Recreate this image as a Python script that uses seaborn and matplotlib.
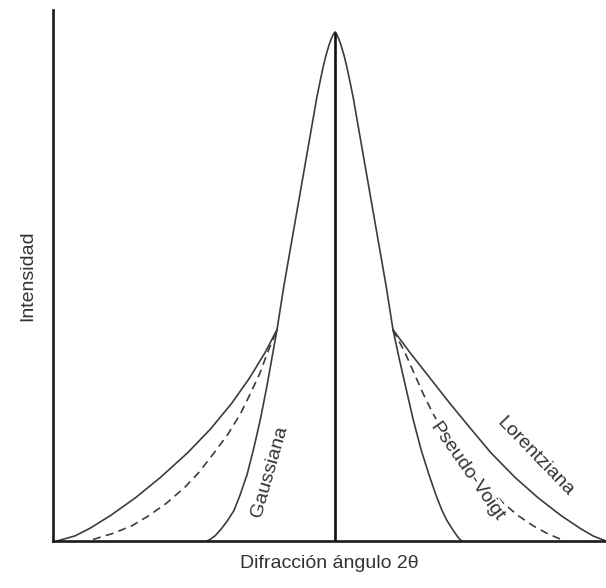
import numpy as np
import pandas as pd
import matplotlib
matplotlib.use("Agg")
import matplotlib.pyplot as plt
import seaborn as sns

# ---- data (x = 2theta offset from peak, y = intensity %) ----
# shared upper part of the three profiles
top_x = [-0.58, -0.512, -0.423, -0.334, -0.245, -0.183, -0.15, -0.12, -0.09, -0.06, -0.04, -0.02, 0.0,
         0.02, 0.04, 0.06, 0.09, 0.12, 0.15, 0.183, 0.245, 0.334, 0.423, 0.512, 0.58]
top_y = [41.5, 50.0, 60.0, 70.0, 80.0, 87.0, 90.2, 93.0, 95.4, 97.4, 98.5, 99.4, 100.0,
         99.4, 98.5, 97.4, 95.4, 93.0, 90.2, 87.0, 80.0, 70.0, 60.0, 50.0, 41.5]

# Gaussian tails
gauss_left_x = [-1.28, -1.25, -1.20, -1.14, -1.075, -1.01, -0.95, -0.88, -0.815, -0.745, -0.685, -0.63, -0.58]
gauss_left_y = [0.0, 0.3, 1.0, 2.3, 4.0, 6.0, 9.0, 13.0, 18.0, 24.0, 30.0, 36.0, 41.5]
gauss_right_x = [0.58, 0.64, 0.71, 0.78, 0.86, 0.94, 1.01, 1.07, 1.12, 1.175, 1.22, 1.25, 1.27]
gauss_right_y = [41.5, 36.0, 30.0, 24.0, 18.0, 13.0, 9.0, 6.0, 4.0, 2.3, 1.0, 0.3, 0.0]

# Lorentzian tails
lor_left_x = [-2.78, -2.60, -2.45, -2.245, -1.995, -1.745, -1.475, -1.245, -1.035, -0.855, -0.70, -0.58]
lor_left_y = [0.0, 1.0, 2.5, 5.0, 8.5, 12.5, 17.3, 22.0, 27.0, 32.0, 37.0, 41.5]
lor_right_x = [0.58, 0.75, 0.95, 1.15, 1.36, 1.56, 1.80, 2.03, 2.26, 2.45, 2.58, 2.71]
lor_right_y = [41.5, 37.0, 32.0, 27.0, 22.0, 17.3, 12.5, 8.5, 5.0, 2.5, 1.0, 0.0]

# Pseudo-Voigt tails (dashed)
pv_left_x = [-2.42, -2.22, -2.03, -1.86, -1.68, -1.50, -1.36, -1.21, -1.07, -0.945, -0.845, -0.75, -0.675, -0.58]
pv_left_y = [0.3, 1.5, 3.0, 5.0, 7.5, 10.6, 13.5, 17.3, 21.0, 25.0, 29.0, 33.0, 37.0, 41.5]
pv_right_x = [0.58, 0.70, 0.79, 0.88, 0.98, 1.10, 1.24, 1.39, 1.53, 1.68, 1.83, 1.98, 2.12, 2.25]
pv_right_y = [41.5, 37.0, 33.0, 29.0, 25.0, 21.0, 17.3, 13.5, 10.6, 7.5, 5.0, 3.0, 1.5, 0.4]

peak_pos = 0.0
peak_int = 100.0

curve_labels = ["Gaussiana", "Pseudo-Voigt", "Lorentziana"]
x_label = "Difracción ángulo 2θ"
y_label = "Intensidad"

# ---- style ----
sns.set_style("white")
plt.rcParams["font.family"] = ["Liberation Sans", "DejaVu Sans"]

line_col = "#3c3c3c"
text_col = "#333333"

fig = plt.figure(figsize=(6.06, 5.88), dpi=100)
ax = fig.add_axes([53 / 606, 47 / 588, 553 / 606, 531 / 588])

def seg(x, y, **kw):
    df = pd.DataFrame({"x": x, "y": y})
    sns.lineplot(data=df, x="x", y="y", sort=False, estimator=None, ax=ax, **kw)
    line = ax.lines[-1]
    line.set_solid_joinstyle("round")
    line.set_dash_joinstyle("round")
    return line

solid = dict(color=line_col, linewidth=1.2)

seg(top_x, top_y, **solid)
seg(gauss_left_x, gauss_left_y, **solid)
seg(gauss_right_x, gauss_right_y, **solid)
seg(lor_left_x, lor_left_y, **solid)
seg(lor_right_x, lor_right_y, **solid)
for xs, ys in [(pv_left_x, pv_left_y), (pv_right_x, pv_right_y)]:
    ln = seg(xs, ys, **solid)
    ln.set_linestyle((0, (4.8, 3.2)))

ax.vlines(peak_pos, 0, peak_int, color="#111111", linewidth=1.9, zorder=3)

# labels on curves
ax.text(-0.65, 13.6, curve_labels[0], rotation=74, fontsize=14, color=text_col,
        ha="center", va="center", rotation_mode="anchor")
ax.text(1.32, 13.6, curve_labels[1], rotation=-55, fontsize=14, color=text_col,
        ha="center", va="center", rotation_mode="anchor",
        bbox=dict(facecolor="white", edgecolor="none", pad=2.0), zorder=4)
ax.text(2.00, 16.5, curve_labels[2], rotation=-46, fontsize=14, color=text_col,
        ha="center", va="center", rotation_mode="anchor")

ax.set_xlim(-2.82, 2.71)
ax.set_ylim(0, 104.3)
ax.set_xticks([])
ax.set_yticks([])
ax.set_xlabel(x_label, fontsize=14, color=text_col, labelpad=10)
ax.set_ylabel(y_label, fontsize=14, color=text_col, labelpad=12)

for s in ["top", "right"]:
    ax.spines[s].set_visible(False)
for s in ["left", "bottom"]:
    ax.spines[s].set_color("#1a1a1a")
    ax.spines[s].set_linewidth(1.9)

fig.savefig("out.png", dpi=100, facecolor="white")
